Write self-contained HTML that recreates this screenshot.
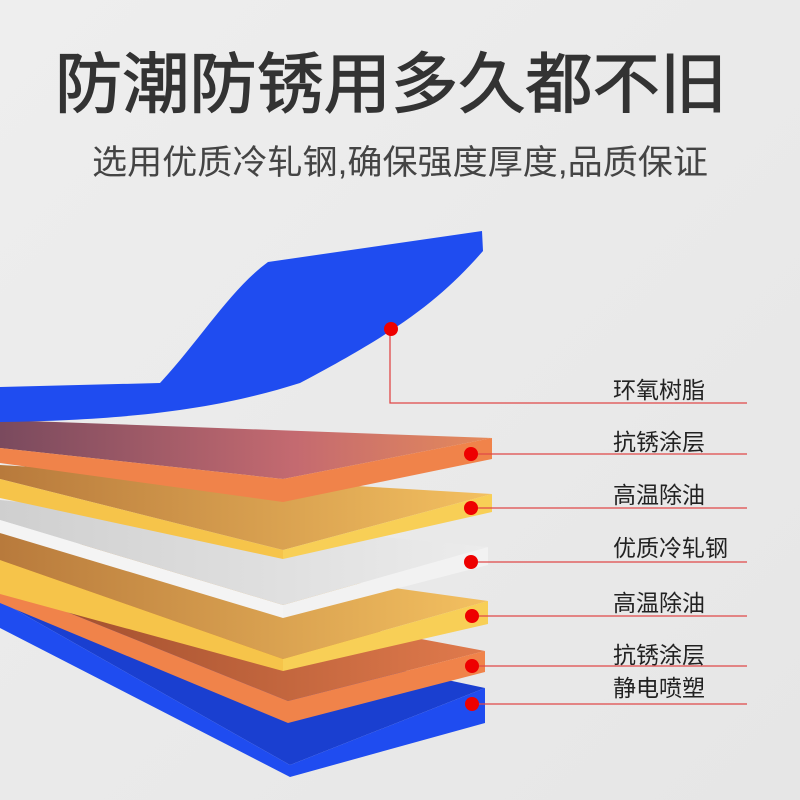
<!DOCTYPE html>
<html><head><meta charset="utf-8"><style>
html,body{margin:0;padding:0;}
body{width:800px;height:800px;overflow:hidden;background:#ebebeb;}
svg{display:block}
</style></head><body>
<svg width="800" height="800" viewBox="0 0 800 800" xmlns="http://www.w3.org/2000/svg">
<defs>
<linearGradient id="bg" x1="0" y1="0" x2="1" y2="1"><stop offset="0" stop-color="#eeeeee"/><stop offset="1" stop-color="#e6e6e6"/></linearGradient>
<linearGradient id="o1" x1="0" y1="0" x2="1" y2="0"><stop offset="0" stop-color="#7a4a5e"/><stop offset="0.6" stop-color="#c46a70"/><stop offset="1" stop-color="#e58a5a"/></linearGradient>
<linearGradient id="y1" x1="0" y1="0" x2="1" y2="0"><stop offset="0" stop-color="#b87a3c"/><stop offset="1" stop-color="#f3c060"/></linearGradient>
<linearGradient id="w1" x1="0" y1="0" x2="1" y2="0"><stop offset="0" stop-color="#cfcfcf"/><stop offset="1" stop-color="#ececec"/></linearGradient>
<linearGradient id="o2" x1="0" y1="0" x2="1" y2="0"><stop offset="0" stop-color="#9a4a2a"/><stop offset="1" stop-color="#e07a4c"/></linearGradient>
</defs>
<rect width="800" height="800" fill="url(#bg)"/>
<text x="55" y="107" textLength="672" lengthAdjust="spacingAndGlyphs" font-family="Liberation Sans, Noto Sans CJK SC, sans-serif" font-size="66" fill="#333" stroke="#333" stroke-width="1.2">防潮防锈用多久都不旧</text>
<text x="92" y="174" textLength="616" lengthAdjust="spacingAndGlyphs" font-family="Liberation Sans, Noto Sans CJK SC, sans-serif" font-size="34" fill="#444">选用优质冷轧钢,确保强度厚度,品质保证</text>

<!-- blue bottom -->
<polygon points="0,585 485,688 290,765 0,601" fill="#1a3fd0"/>
<polygon points="0,601 290,765 290,777 0,628" fill="#1f4cf0"/>
<polygon points="290,765 485,688 485,723 290,777" fill="#1f4cf0"/>
<!-- orange2 -->
<polygon points="0,560 485,651 288,701 0,585" fill="url(#o2)"/>
<polygon points="0,585 288,701 288,723 0,603" fill="#f0834a"/>
<polygon points="288,701 485,651 485,672 288,723" fill="#f0834a"/>
<!-- yellow2 -->
<polygon points="0,533 488,601 283,659 0,560" fill="url(#y1)"/>
<polygon points="0,560 283,659 283,671 0,594" fill="#f6c44a"/>
<polygon points="283,659 488,601 488,624 283,671" fill="#f8cf56"/>
<!-- white -->
<polygon points="0,500 488,547 283,605 0,520" fill="url(#w1)"/>
<polygon points="0,520 283,605 283,618 0,533" fill="#f4f4f4"/>
<polygon points="283,605 488,547 488,565 283,618" fill="#f2f2f2"/>
<!-- yellow1 -->
<polygon points="0,465 492,494 283,550 0,479" fill="url(#y1)"/>
<polygon points="0,479 283,550 283,559 0,498" fill="#f6c44a"/>
<polygon points="283,550 492,494 492,512 283,559" fill="#f8cf56"/>
<!-- orange1 -->
<polygon points="0,420 492,438 283,479 0,448" fill="url(#o1)"/>
<polygon points="0,448 283,479 283,502 0,463" fill="#f0834a"/>
<polygon points="283,479 492,438 492,459 283,502" fill="#f0834a"/>
<!-- blue top -->
<path d="M0,387 L160,383 C200,340 230,290 268,262 L482,231 L483,251 C440,300 400,330 300,383 C230,405 150,420 0,422 Z" fill="#1f4cf0"/>

<g stroke="#e04848" stroke-width="1.3" fill="none">
<polyline points="390,329 390,403 747,403"/>
<line x1="471" y1="454" x2="747" y2="454"/>
<line x1="471" y1="508" x2="747" y2="508"/>
<line x1="471" y1="562" x2="747" y2="562"/>
<line x1="472" y1="616" x2="747" y2="616"/>
<line x1="472" y1="666" x2="747" y2="666"/>
<line x1="472" y1="704" x2="747" y2="704"/>
</g>
<g fill="#ee0000">
<circle cx="391" cy="329" r="7"/>
<circle cx="471" cy="454" r="7"/>
<circle cx="471" cy="508" r="7"/>
<circle cx="471" cy="562" r="7"/>
<circle cx="472" cy="616" r="7"/>
<circle cx="472" cy="666" r="7"/>
<circle cx="472" cy="704" r="7"/>
</g>
<g font-family="Liberation Sans, Noto Sans CJK SC, sans-serif" font-size="23" fill="#222">
<text x="613" y="398">环氧树脂</text>
<text x="613" y="450">抗锈涂层</text>
<text x="613" y="503">高温除油</text>
<text x="613" y="556">优质冷轧钢</text>
<text x="613" y="611">高温除油</text>
<text x="613" y="663">抗锈涂层</text>
<text x="613" y="696">静电喷塑</text>
</g>
</svg>
</body></html>
